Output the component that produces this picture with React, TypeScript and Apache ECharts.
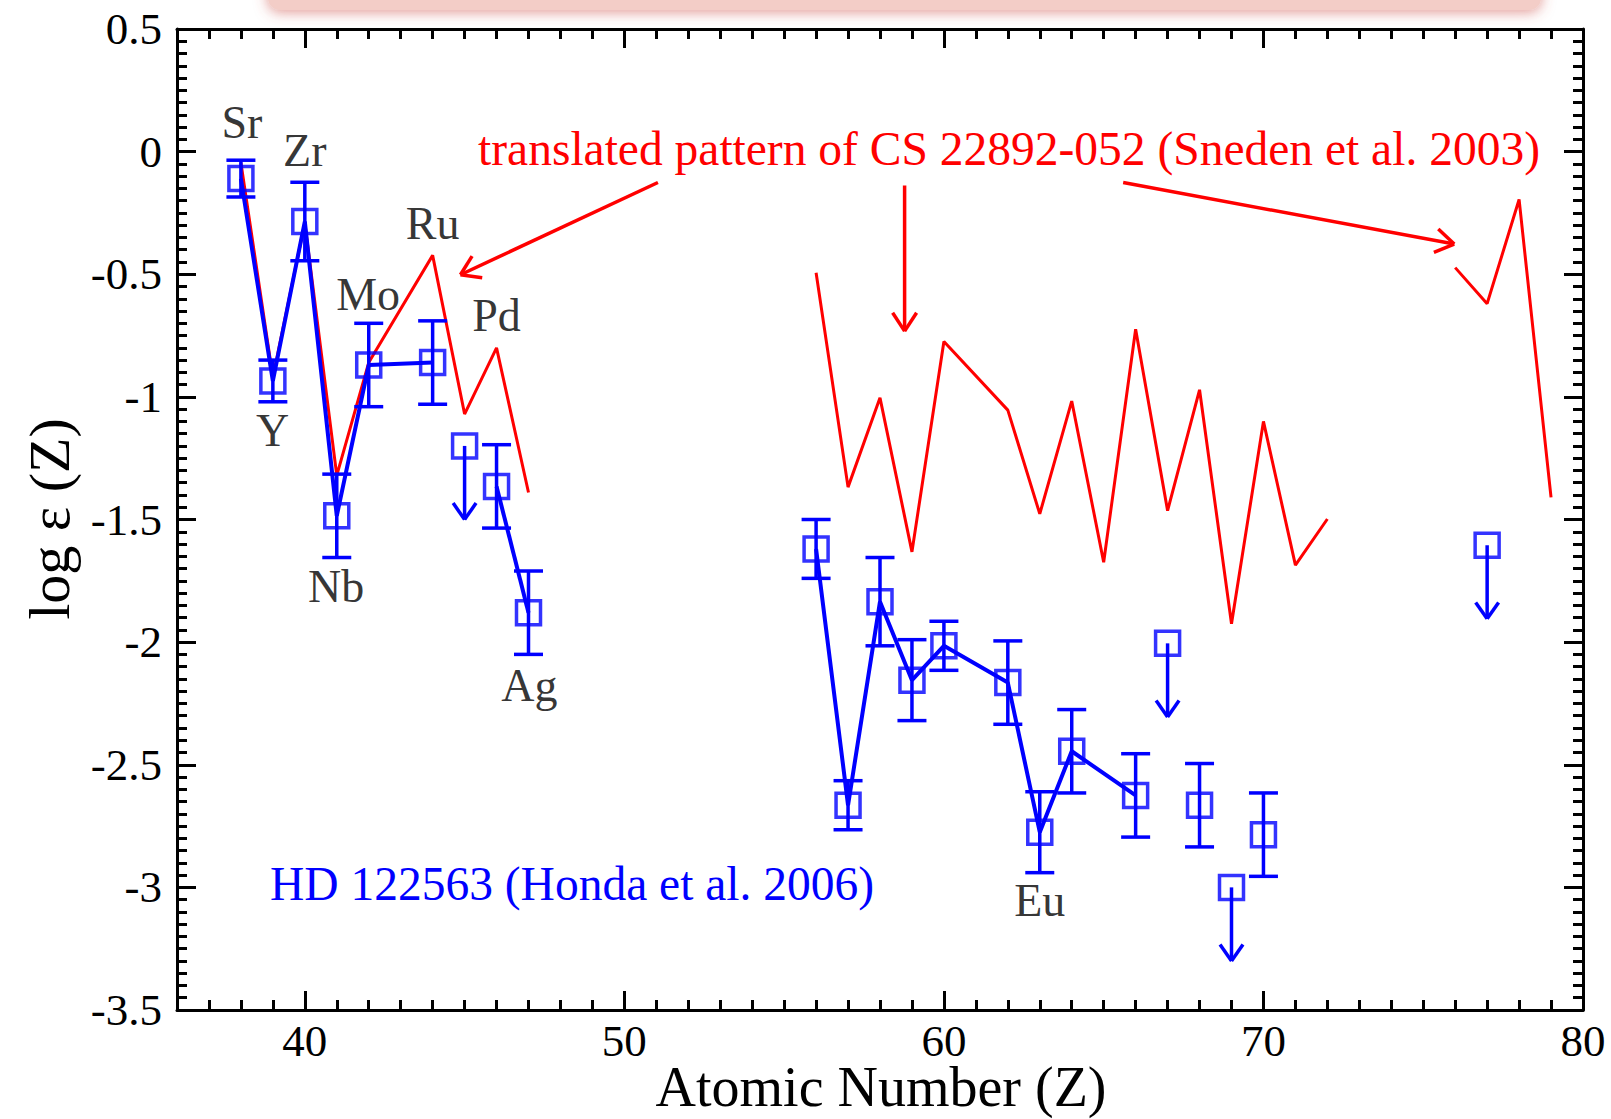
import React, { useEffect, useRef } from "react";
import * as echarts from "echarts";

const BLUE = "#0000ff";
const RED = "#ff0000";
const FONT = '"Liberation Serif", "Times New Roman", Times, serif';

// HD 122563 (Honda et al. 2006): measured log eps with errors
const hdZ = [38, 39, 40, 41, 42, 44, 46, 47, 56, 57, 58, 59, 60, 62, 63, 64, 66, 68, 70];
const hdLogEps = [
  -0.11, -0.935, -0.285, -1.485, -0.87, -0.86, -1.365, -1.88,
  -1.62, -2.665, -1.835, -2.155, -2.015, -2.165, -2.775, -2.445, -2.625, -2.665, -2.785,
];
const hdErr = [
  0.075, 0.085, 0.16, 0.17, 0.17, 0.17, 0.17, 0.17,
  0.12, 0.1, 0.18, 0.165, 0.1, 0.17, 0.165, 0.17, 0.17, 0.17, 0.17,
];
// runs of elements joined by a line
const hdRuns = [
  [38, 39, 40, 41, 42, 44],
  [46, 47],
  [56, 57, 58, 59, 60, 62, 63, 64, 66],
];
// upper limits
const limZ = [45, 67, 69, 77];
const limLogEps = [-1.2, -2.005, -3.0, -1.605];
const limArrowLen = 0.3;

// CS 22892-052 (Sneden et al. 2003), shifted onto HD 122563
const csZ1 = [38, 39, 40, 41, 42, 44, 45, 46, 47];
const csLog1 = [-0.045, -0.92, -0.29, -1.32, -0.86, -0.423, -1.07, -0.8, -1.39];
const csZ2 = [56, 57, 58, 59, 60, 62, 63, 64, 65, 66, 67, 68, 69, 70, 71, 72];
const csLog2 = [
  -0.494, -1.368, -1.004, -1.632, -0.774, -1.054, -1.477, -1.017,
  -1.674, -0.724, -1.464, -0.971, -1.925, -1.1, -1.686, -1.498,
];
const csZ3 = [76, 77, 78, 79];
const csLog3 = [-0.473, -0.62, -0.195, -1.41];

// element name labels and their anchor points
const elemNames = ["Sr", "Y", "Zr", "Nb", "Mo", "Ru", "Pd", "Ag", "Eu"];
const elemLabelZ = [38.03, 38.99, 40.0, 40.98, 41.98, 44.0, 46.0, 47.03, 63.0];
const elemLabelLog = [0.12, -1.137, 0.005, -1.774, -0.581, -0.292, -0.669, -2.175, -3.054];

// pointer arrows of the CS 22892-052 caption: [fromZ, fromLog, toZ, toLog]
const captionArrows = [
  [51.05, -0.126, 44.87, -0.502],
  [58.77, -0.138, 58.77, -0.732],
  [65.61, -0.126, 75.97, -0.377],
];

// axes
const X_MIN = 36;
const X_MAX = 80;
const Y_MIN = -3.5;
const Y_MAX = 0.5;
const xMajorTicks = [40, 50, 60, 70, 80];
const yMajorTicks = [-3.5, -3, -2.5, -2, -1.5, -1, -0.5, 0, 0.5];

function minorTicks(min: number, max: number, step: number, majors: number[]) {
  const out: number[] = [];
  const n = Math.round((max - min) / step);
  for (let i = 1; i < n; i++) {
    const v = Math.round((min + i * step) * 1000) / 1000;
    if (!majors.some((m) => Math.abs(m - v) < 1e-6)) out.push(v);
  }
  return out;
}
const xMinorTicks = minorTicks(X_MIN, X_MAX, 1, xMajorTicks);
const yMinorTicks = minorTicks(Y_MIN, Y_MAX, 0.05, yMajorTicks);

function arrowHead(tip: number[], from: number[], len: number, ang: number) {
  const dx = from[0] - tip[0];
  const dy = from[1] - tip[1];
  const d = Math.hypot(dx, dy) || 1;
  const ux = dx / d;
  const uy = dy / d;
  const pts: number[][] = [];
  for (const a of [ang, -ang]) {
    const c = Math.cos(a);
    const s = Math.sin(a);
    pts.push([tip[0] + len * (ux * c - uy * s), tip[1] + len * (ux * s + uy * c)]);
  }
  return pts;
}

function lineEl(p: number[], q: number[], color: string, w: number) {
  return {
    type: "line",
    shape: { x1: p[0], y1: p[1], x2: q[0], y2: q[1] },
    style: { stroke: color, lineWidth: w, lineCap: "butt" },
  };
}

export default function App() {
  const ref = useRef<HTMLDivElement>(null);

  useEffect(() => {
    document.body.style.margin = "0";
    if (!ref.current) return;
    const chart = echarts.init(ref.current, null, { renderer: "svg" });

    const hdMap = new Map<number, [number, number]>();
    hdZ.forEach((z, i) => hdMap.set(z, [hdLogEps[i], hdErr[i]]));

    const axisLineStyle = { color: "#000", width: 3 };
    const labelStyle = { color: "#000", fontFamily: FONT, fontSize: 45 };

    const mkX = (pos: string, major: boolean, labels: boolean) => ({
      type: "value",
      position: pos,
      min: X_MIN,
      max: X_MAX,
      axisLine: { show: major, onZero: false, lineStyle: axisLineStyle },
      axisTick: {
        show: true,
        inside: true,
        length: major ? 19 : 10,
        lineStyle: { color: "#000", width: 3 },
        customValues: major ? xMajorTicks : xMinorTicks,
      },
      axisLabel: labels
        ? { show: true, customValues: xMajorTicks, margin: 13, lineHeight: 36, ...labelStyle }
        : { show: false },
      splitLine: { show: false },
    });
    const mkY = (pos: string, major: boolean, labels: boolean) => ({
      type: "value",
      position: pos,
      min: Y_MIN,
      max: Y_MAX,
      axisLine: { show: major, onZero: false, lineStyle: axisLineStyle },
      axisTick: {
        show: true,
        inside: true,
        length: major ? 19 : 10,
        lineStyle: { color: "#000", width: 3 },
        customValues: major ? yMajorTicks : yMinorTicks,
      },
      axisLabel: labels
        ? { show: true, customValues: yMajorTicks, margin: 15, ...labelStyle }
        : { show: false },
      splitLine: { show: false },
    });

    const csSeries = [
      [csZ1, csLog1],
      [csZ2, csLog2],
      [csZ3, csLog3],
    ].map(([zs, vs]) => ({
      type: "line",
      xAxisIndex: 0,
      yAxisIndex: 0,
      data: zs.map((z, i) => [z, vs[i]]),
      symbol: "none",
      lineStyle: { color: RED, width: 3 },
      z: 2,
      silent: true,
    }));

    const hdLineSeries = hdRuns.map((run) => ({
      type: "line",
      xAxisIndex: 0,
      yAxisIndex: 0,
      data: run.map((z) => [z, hdMap.get(z)![0]]),
      symbol: "none",
      lineStyle: { color: BLUE, width: 4 },
      z: 3,
      silent: true,
    }));

    const errorBars = {
      type: "custom",
      xAxisIndex: 0,
      yAxisIndex: 0,
      z: 4,
      silent: true,
      clip: false,
      encode: { x: 0, y: 1 },
      data: hdZ.map((z, i) => [z, hdLogEps[i], hdErr[i]]),
      renderItem: (_p: any, api: any) => {
        const x = api.value(0);
        const y = api.value(1);
        const e = api.value(2);
        const top = api.coord([x, y + e]);
        const bot = api.coord([x, y - e]);
        const cap = 14.5;
        return {
          type: "group",
          children: [
            lineEl(top, bot, BLUE, 3.5),
            lineEl([top[0] - cap, top[1]], [top[0] + cap, top[1]], BLUE, 3.5),
            lineEl([bot[0] - cap, bot[1]], [bot[0] + cap, bot[1]], BLUE, 3.5),
          ],
        };
      },
    };

    const limitArrows = {
      type: "custom",
      xAxisIndex: 0,
      yAxisIndex: 0,
      z: 4,
      silent: true,
      clip: false,
      encode: { x: 0, y: 1 },
      data: limZ.map((z, i) => [z, limLogEps[i], limLogEps[i] - limArrowLen]),
      renderItem: (_p: any, api: any) => {
        const x = api.value(0);
        const from = api.coord([x, api.value(1)]);
        const tip = api.coord([x, api.value(2)]);
        const [a, b] = arrowHead(tip, from, 20, (35 * Math.PI) / 180);
        return {
          type: "group",
          children: [
            lineEl(from, tip, BLUE, 3.5),
            lineEl(tip, a, BLUE, 3.5),
            lineEl(tip, b, BLUE, 3.5),
          ],
        };
      },
    };

    const squares = {
      type: "scatter",
      xAxisIndex: 0,
      yAxisIndex: 0,
      z: 5,
      silent: true,
      symbol: "rect",
      symbolSize: 24,
      itemStyle: { color: "rgba(255,255,255,0)", borderColor: BLUE, borderWidth: 3.5 },
      data: [
        ...hdZ.map((z, i) => [z, hdLogEps[i]]),
        ...limZ.map((z, i) => [z, limLogEps[i]]),
      ],
    };

    const captionArrowSeries = {
      type: "custom",
      xAxisIndex: 0,
      yAxisIndex: 0,
      z: 6,
      silent: true,
      clip: false,
      encode: { x: [0, 2], y: [1, 3] },
      data: captionArrows,
      renderItem: (_p: any, api: any) => {
        const from = api.coord([api.value(0), api.value(1)]);
        const tip = api.coord([api.value(2), api.value(3)]);
        const [a, b] = arrowHead(tip, from, 22, (33 * Math.PI) / 180);
        return {
          type: "group",
          children: [
            lineEl(from, tip, RED, 3.5),
            lineEl(tip, a, RED, 3.5),
            lineEl(tip, b, RED, 3.5),
          ],
        };
      },
    };

    const elementLabels = {
      type: "scatter",
      xAxisIndex: 0,
      yAxisIndex: 0,
      z: 7,
      silent: true,
      symbolSize: 1,
      itemStyle: { color: "rgba(0,0,0,0)" },
      data: elemNames.map((n, i) => ({ name: n, value: [elemLabelZ[i], elemLabelLog[i]] })),
      label: {
        show: true,
        position: "inside",
        formatter: "{b}",
        color: "#000",
        fontFamily: FONT,
        fontSize: 46,
      },
    };

    chart.setOption({
      animation: false,
      backgroundColor: "#ffffff",
      grid: { left: 177, right: 28, top: 29, bottom: 109, containLabel: false },
      xAxis: [
        mkX("bottom", true, true),
        mkX("bottom", false, false),
        mkX("top", true, false),
        mkX("top", false, false),
      ],
      yAxis: [
        mkY("left", true, true),
        mkY("left", false, false),
        mkY("right", true, false),
        mkY("right", false, false),
      ],
      graphic: [
        {
          type: "rect",
          shape: { x: 268, y: -40, width: 1273, height: 50, r: 12 },
          style: {
            fill: "#f3cdc7",
            shadowBlur: 14,
            shadowColor: "rgba(205,80,70,0.6)",
            shadowOffsetY: 2,
          },
          z: 0,
        },
        {
          type: "text",
          x: 1009,
          y: 149,
          style: {
            text: "translated pattern of CS 22892-052 (Sneden et al. 2003)",
            fill: RED,
            fontFamily: FONT,
            fontSize: 47.5,
            align: "center",
            verticalAlign: "middle",
          },
          z: 10,
        },
        {
          type: "text",
          x: 572,
          y: 884,
          style: {
            text: "HD 122563 (Honda et al. 2006)",
            fill: BLUE,
            fontFamily: FONT,
            fontSize: 47.5,
            align: "center",
            verticalAlign: "middle",
          },
          z: 10,
        },
        {
          type: "text",
          x: 881,
          y: 1087,
          style: {
            text: "Atomic Number (Z)",
            fill: "#000",
            fontFamily: FONT,
            fontSize: 56,
            lineHeight: 44,
            align: "center",
            verticalAlign: "middle",
          },
          z: 10,
        },
        {
          type: "text",
          x: 49,
          y: 519,
          rotation: Math.PI / 2,
          style: {
            text: "log \u03b5 (Z)",
            fill: "#000",
            fontFamily: FONT,
            fontSize: 58,
            align: "center",
            verticalAlign: "middle",
          },
          z: 10,
        },
      ],
      series: [
        ...csSeries,
        ...hdLineSeries,
        errorBars,
        limitArrows,
        squares,
        captionArrowSeries,
        elementLabels,
      ],
    });

    return () => {
      chart.dispose();
    };
  }, []);

  return <div ref={ref} style={{ width: 1611, height: 1119 }} />;
}
